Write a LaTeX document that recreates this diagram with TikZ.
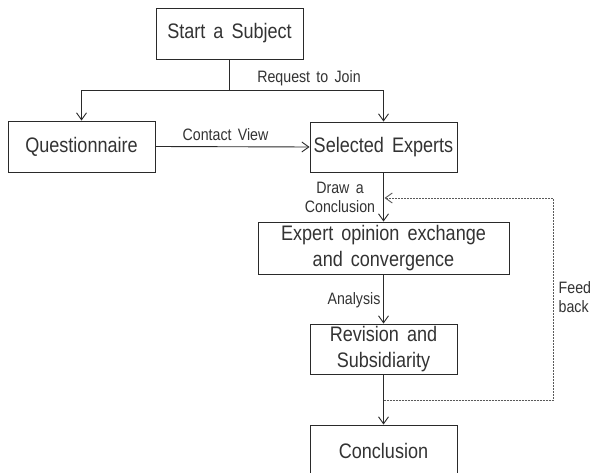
\documentclass[tikz,border=0pt]{standalone}
\usepackage{fontspec}
\setmainfont{Liberation Sans}[FakeStretch=0.86, WordSpace=1.6]
\usetikzlibrary{arrows.meta}
\definecolor{ink}{HTML}{2A2A2A}
\definecolor{textink}{HTML}{333333}
\definecolor{fbgray}{HTML}{5A5A5A}
\begin{document}
\begin{tikzpicture}[x=1pt, y=-1pt,
  stagebox/.style={draw=ink, line width=0.9pt, text=textink, align=center,
    inner sep=0pt, font=\fontsize{21}{26}\selectfont},
  flowlabel/.style={text=textink, inner sep=0pt, align=center,
    font=\fontsize{16.5}{19.5}\selectfont},
  flow/.style={draw=ink, line width=0.9pt},
  flowarrow/.style={flow, -{Straight Barb[length=7pt, width=10pt]}},
  fbline/.style={draw=fbgray, line width=0.9pt, dash pattern=on 2pt off 1pt,
    -{Straight Barb[length=7pt, width=10pt]}}]
  \clip (0,0) rectangle (591,473);
  \fill[white] (0,0) rectangle (591,473);

  % process stages
  \node[stagebox, minimum width=147pt, minimum height=51pt] (start) at (229.5,33.5) {Start a Subject};
  \node[stagebox, minimum width=147pt, minimum height=51pt] (quest) at (81.5,146.5) {Questionnaire};
  \node[stagebox, minimum width=147pt, minimum height=50pt] (sel) at (383.5,147) {Selected Experts};
  \node[stagebox, minimum width=251pt, minimum height=52pt] (expert) at (383.5,248) {Expert opinion exchange\\and convergence};
  \node[stagebox, minimum width=147pt, minimum height=50pt] (rev) at (383.5,349) {Revision and\\Subsidiarity};
  \node[stagebox, minimum width=147pt, minimum height=52pt] (concl) at (383.5,451) {Conclusion};

  % split below the start box
  \coordinate (split) at (229.5,90);
  \draw[flow] (start.south) -- (split);
  \draw[flowarrow] (split) -| (quest.north);
  \draw[flowarrow] (split) -| (sel.north);
  \node[flowlabel] (ljoin) at (309,78) {Request to Join};

  \draw[flowarrow] (quest.east) -- (sel.west);
  \node[flowlabel] (lcontact) at (225.5,135) {Contact View};

  \draw[flowarrow] (sel.south) -- (expert.north);
  \node[flowlabel] (ldraw) at (340,197.5) {Draw a\\Conclusion};

  \draw[flowarrow] (expert.south) -- (rev.north);
  \node[flowlabel] (lanalysis) at (354,300) {Analysis};

  \draw[flowarrow] (rev.south) -- (concl.north);

  % feedback loop
  \coordinate (fbout) at (383.5,400);
  \coordinate (fbcorner) at (553,198);
  \coordinate (fbin) at (384.5,198);
  \draw[fbline] (fbout) -| (fbcorner) -- (fbin);
  \node[flowlabel, anchor=west, align=left] (lfeed) at (558.5,297) {Feed\\back};
\end{tikzpicture}
\end{document}
